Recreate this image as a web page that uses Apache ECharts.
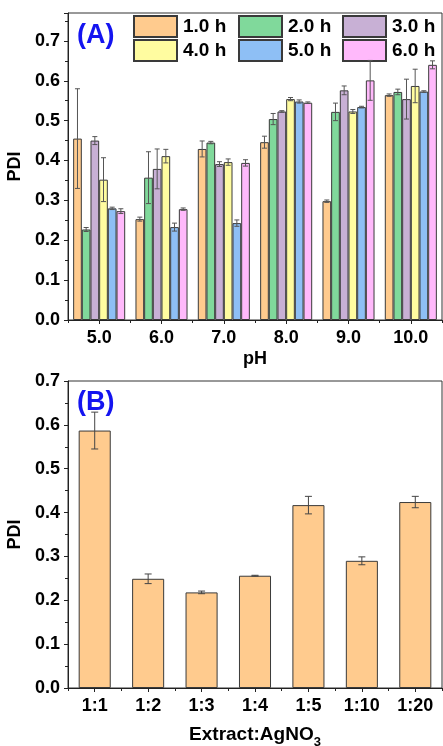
<!DOCTYPE html>
<html>
<head>
<meta charset="utf-8">
<script src="https://cdn.jsdelivr.net/npm/echarts@6/dist/echarts.min.js"></script>
<style>html,body{margin:0;padding:0;background:#fff}#c{width:443px;height:746px}</style>
</head>
<body>
<div id="c"></div>
<script>
// ---- Data ----
const phCategories = ['5.0', '6.0', '7.0', '8.0', '9.0', '10.0'];
const seriesNames = ['1.0 h', '2.0 h', '3.0 h', '4.0 h', '5.0 h', '6.0 h'];
const h1 = [0.455, 0.253, 0.429, 0.446, 0.298, 0.564];
const h2 = [0.227, 0.357, 0.445, 0.504, 0.522, 0.572];
const h3 = [0.450, 0.379, 0.391, 0.523, 0.576, 0.554];
const h4 = [0.352, 0.411, 0.396, 0.554, 0.523, 0.587];
const h5 = [0.280, 0.233, 0.243, 0.548, 0.534, 0.573];
const h6 = [0.273, 0.278, 0.394, 0.545, 0.601, 0.640];
const e1 = [0.125, 0.005, 0.020, 0.015, 0.003, 0.003];
const e2 = [0.005, 0.065, 0.003, 0.014, 0.022, 0.007];
const e3 = [0.010, 0.050, 0.006, 0.002, 0.011, 0.050];
const e4 = [0.055, 0.017, 0.008, 0.004, 0.005, 0.042];
const e5 = [0.003, 0.010, 0.008, 0.004, 0.002, 0.002];
const e6 = [0.006, 0.003, 0.008, 0.002, 0.050, 0.010];

const ratioCategories = ['1:1', '1:2', '1:3', '1:4', '1:5', '1:10', '1:20'];
const ratioPDI = [0.587, 0.249, 0.218, 0.256, 0.417, 0.290, 0.424];
const ratioErr = [0.042, 0.011, 0.003, 0.001, 0.020, 0.009, 0.013];

const topTicks = [0, 0.1, 0.2, 0.3, 0.4, 0.5, 0.6, 0.7];

// ---- Styles ----
const FONT = "'Liberation Sans', Arial, sans-serif";
const colors = ['#FFCB8E', '#80D99B', '#C8B0D5', '#FFFCA0', '#8EBFF5', '#FFB9FB'];
const values = [h1, h2, h3, h4, h5, h6];
const errs = [e1, e2, e3, e4, e5, e6];
const GAP = 0.165;

const chart = echarts.init(document.getElementById('c'));

function yAxisCommon(gridIndex, max) {
  return {
    type: 'value', gridIndex, min: 0, max, interval: 0.1,
    name: 'PDI', nameLocation: 'middle', nameGap: 35,
    nameTextStyle: {fontFamily: FONT, fontWeight: 'bold', fontSize: 18, color: '#000'},
    axisLine: {show: true, lineStyle: {color: '#222', width: 1}},
    axisTick: {show: true, inside: false, length: 4, lineStyle: {color: '#222'}},
    minorTick: {show: true, splitNumber: 2, length: 3, lineStyle: {color: '#222'}},
    splitLine: {show: false},
    axisLabel: {
      fontFamily: FONT, fontWeight: 'bold', fontSize: 18, color: '#000', margin: 8,
      formatter: v => (topTicks.some(t => Math.abs(t - v) < 1e-6) ? v.toFixed(1) : '')
    }
  };
}

function xAxisMain(gridIndex, data, name, nameGap, rich) {
  return {
    type: 'category', gridIndex, data,
    name, nameLocation: 'middle', nameGap,
    nameTextStyle: Object.assign({fontFamily: FONT, fontWeight: 'bold', fontSize: 18, color: '#000'}, rich ? {rich} : {}),
    axisLine: {show: true, lineStyle: {color: '#222', width: 1}},
    axisTick: {show: true, alignWithLabel: true, length: 4, lineStyle: {color: '#222'}},
    axisLabel: {fontFamily: FONT, fontWeight: 'bold', fontSize: 18, color: '#000', margin: 9}
  };
}
function xAxisMinor(gridIndex, data) {
  return {
    type: 'category', gridIndex, data, position: 'bottom',
    axisLine: {show: false},
    axisTick: {show: true, length: 3, lineStyle: {color: '#222'}},
    axisLabel: {show: false}
  };
}

const series = [];
values.forEach((vals, i) => {
  series.push({
    type: 'bar', name: seriesNames[i], xAxisIndex: 0, yAxisIndex: 0,
    data: vals, barGap: '0%', barCategoryGap: (GAP * 100) + '%',
    itemStyle: {color: colors[i], borderColor: '#3a3a3a', borderWidth: 1},
    emphasis: {disabled: true}
  });
});
values.forEach((vals, i) => {
  series.push({
    type: 'custom', name: seriesNames[i] + ' err', xAxisIndex: 0, yAxisIndex: 0, z: 5,
    data: vals.map((v, k) => [k, v, errs[i][k]]),
    encode: {x: 0, y: 1},
    renderItem: (params, api) => {
      const k = api.value(0), v = api.value(1), e = api.value(2);
      const band = api.size([1, 0])[0];
      const gw = band * (1 - GAP);
      const bw = gw / 6;
      const cx = api.coord([k, v])[0] - gw / 2 + bw * (i + 0.5);
      const yt = api.coord([k, v + e])[1];
      const yb = api.coord([k, v - e])[1];
      const cap = 2.5;
      const st = {stroke: '#555', lineWidth: 1};
      return {type: 'group', children: [
        {type: 'line', shape: {x1: cx, y1: yt, x2: cx, y2: yb}, style: st},
        {type: 'line', shape: {x1: cx - cap, y1: yt, x2: cx + cap, y2: yt}, style: st},
        {type: 'line', shape: {x1: cx - cap, y1: yb, x2: cx + cap, y2: yb}, style: st}
      ]};
    }
  });
});
series.push({
  type: 'bar', name: 'ratio', xAxisIndex: 2, yAxisIndex: 1,
  data: ratioPDI, barCategoryGap: '40%',
  itemStyle: {color: colors[0], borderColor: '#3a3a3a', borderWidth: 1},
  emphasis: {disabled: true}
});
series.push({
  type: 'custom', name: 'ratio err', xAxisIndex: 2, yAxisIndex: 1, z: 5,
  data: ratioPDI.map((v, k) => [k, v, ratioErr[k]]),
  encode: {x: 0, y: 1},
  renderItem: (params, api) => {
    const k = api.value(0), v = api.value(1), e = api.value(2);
    const cx = api.coord([k, v])[0];
    const yt = api.coord([k, v + e])[1];
    const yb = api.coord([k, v - e])[1];
    const cap = 3.5;
    const st = {stroke: '#444', lineWidth: 1};
    return {type: 'group', children: [
      {type: 'line', shape: {x1: cx, y1: yt, x2: cx, y2: yb}, style: st},
      {type: 'line', shape: {x1: cx - cap, y1: yt, x2: cx + cap, y2: yt}, style: st},
      {type: 'line', shape: {x1: cx - cap, y1: yb, x2: cx + cap, y2: yb}, style: st}
    ]};
  }
});

const legendPos = [[133, 15], [238, 15], [342, 15], [133, 39], [238, 39], [342, 39]];
const legends = seriesNames.map((n, i) => ({
  data: [n], left: legendPos[i][0], top: legendPos[i][1], padding: 0,
  itemWidth: 43, itemHeight: 21, icon: 'rect', selectedMode: false,
  textStyle: {fontFamily: FONT, fontWeight: 'bold', fontSize: 19, color: '#000', padding: [0, 0, 0, 1]}
}));

chart.setOption({
  animation: false,
  backgroundColor: '#fff',
  title: [
    {text: '(A)', left: 77, top: 22, padding: 0, textStyle: {fontFamily: FONT, fontWeight: 'bold', fontSize: 27, color: '#1414F0'}},
    {text: '(B)', left: 77, top: 389, padding: 0, textStyle: {fontFamily: FONT, fontWeight: 'bold', fontSize: 27, color: '#1414F0'}}
  ],
  legend: legends,
  grid: [
    {left: 68, right: 1, top: 13, bottom: 426, show: true, borderColor: '#333', borderWidth: 1, backgroundColor: 'transparent', containLabel: false, outerBoundsMode: 'none'},
    {left: 68, right: 1, top: 381, bottom: 58, show: true, borderColor: '#333', borderWidth: 1, backgroundColor: 'transparent', containLabel: false, outerBoundsMode: 'none'}
  ],
  xAxis: [
    xAxisMain(0, phCategories, 'pH', 30),
    xAxisMinor(0, phCategories),
    xAxisMain(1, ratioCategories, '{a|Extract:AgNO}{s|3}', 37, {
      a: {fontFamily: FONT, fontWeight: 'bold', fontSize: 19, color: '#000', lineHeight: 24, verticalAlign: 'top'},
      s: {fontFamily: FONT, fontWeight: 'bold', fontSize: 13, color: '#000', lineHeight: 24, verticalAlign: 'bottom', padding: [10, 0, 0, 0]}
    }),
    xAxisMinor(1, ratioCategories)
  ],
  yAxis: [yAxisCommon(0, 0.77), yAxisCommon(1, 0.7)],
  series
});
</script>
</body>
</html>
